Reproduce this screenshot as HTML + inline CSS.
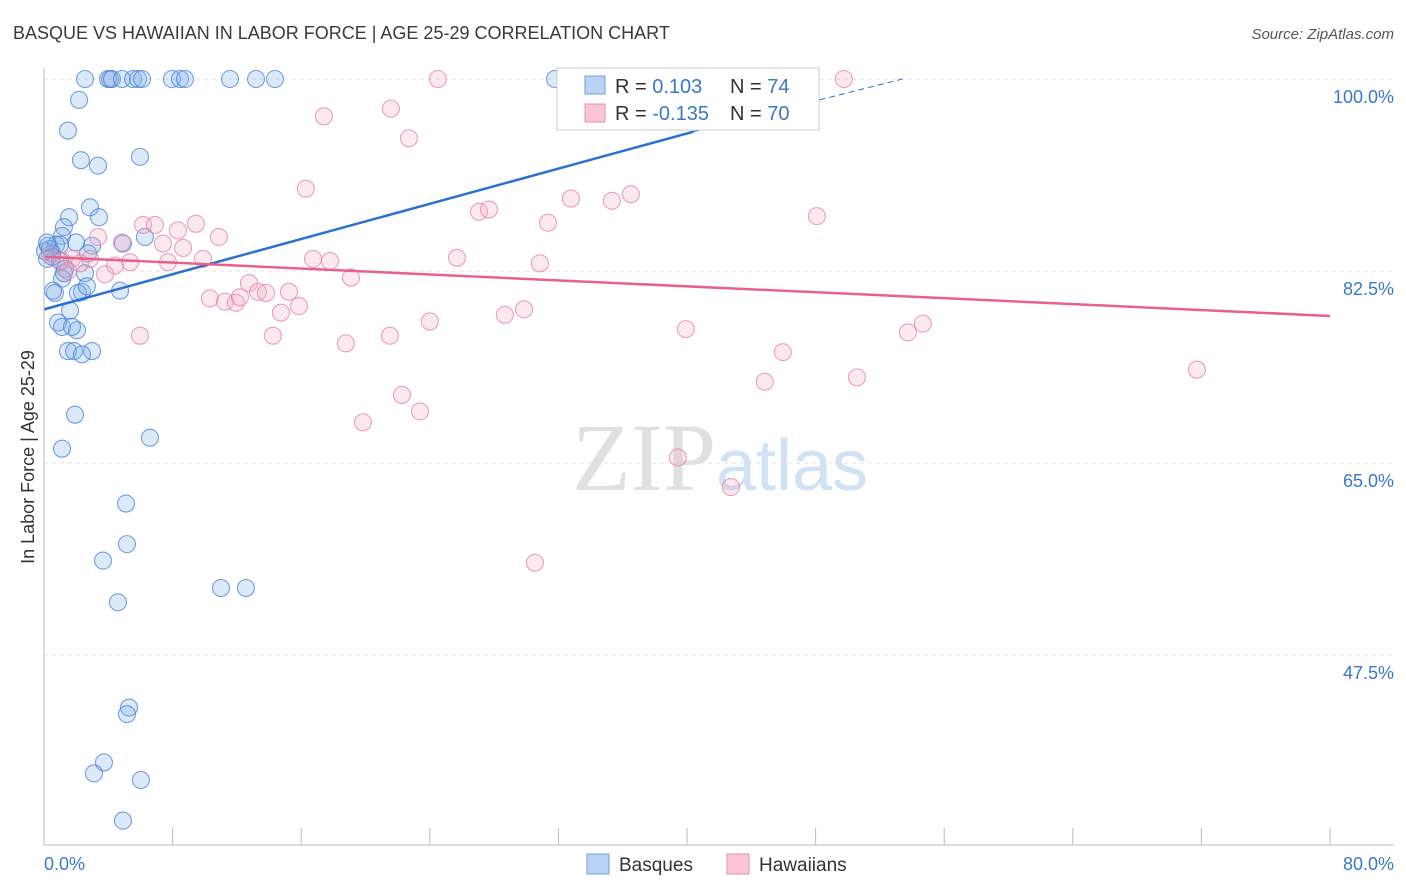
<!DOCTYPE html>
<html><head><meta charset="utf-8"><style>
body{margin:0;background:#fff;font-family:"Liberation Sans",sans-serif}
svg{display:block}
</style></head><body>
<svg id="chart" width="1406" height="892" xmlns="http://www.w3.org/2000/svg">
<text x="13" y="39" font-size="18" fill="#3a3a3a">BASQUE VS HAWAIIAN IN LABOR FORCE | AGE 25-29 CORRELATION CHART</text>
<text x="1394" y="39" font-size="15" fill="#555" text-anchor="end" font-style="italic">Source: ZipAtlas.com</text>
<text x="720" y="490" font-size="96" text-anchor="middle" fill="#e0e0e0" font-family="Liberation Serif">ZIP<tspan fill="#d0e2f4" font-family="Liberation Sans" font-size="72">atlas</tspan></text>
<g id="grid"></g><g id="pts"></g><g id="lines"></g>
<line x1="44" y1="68" x2="44" y2="845" stroke="#bbb"/>
<line x1="44" y1="845" x2="1394" y2="845" stroke="#bbb"/>
<text transform="translate(34,457) rotate(-90)" font-size="18" fill="#333" text-anchor="middle">In Labor Force | Age 25-29</text>
<text x="44" y="870" font-size="18" fill="#3a78d0">0.0%</text>
<text x="1394" y="870" font-size="18" fill="#3a78d0" text-anchor="end">80.0%</text>
<g>
<rect x="557" y="68" width="262" height="62" fill="#fff" stroke="#ccc"/>
<rect x="585" y="76" width="20" height="18" fill="#b8d3f5" stroke="#6fa0e0"/>
<rect x="585" y="104" width="20" height="18" fill="#f9c6d4" stroke="#e890aa"/>
<text x="615" y="93" font-size="20" fill="#333">R = <tspan fill="#3a78d0">  0.103</tspan><tspan x="730">N = </tspan><tspan fill="#3a78d0">74</tspan></text>
<text x="615" y="120" font-size="20" fill="#333">R = <tspan fill="#3a78d0">-0.135</tspan><tspan x="730">N = </tspan><tspan fill="#3a78d0">70</tspan></text>
</g>
<g>
<rect x="587" y="854" width="22" height="20" fill="#b8d3f5" stroke="#6fa0e0"/>
<text x="619" y="871" font-size="19" fill="#333">Basques</text>
<rect x="727" y="854" width="22" height="20" fill="#f9c6d4" stroke="#e890aa"/>
<text x="759" y="871" font-size="19" fill="#333">Hawaiians</text>
</g>
</svg>
<script>
const yTicks=[100,82.5,65,47.5];
const yTickLabels=["100.0%","82.5%","65.0%","47.5%"];
const xTicks=[0,8,16,24,32,40,48,56,64,72,80];
const basqueX=[2.55,3.98,4.11,4.23,4.85,5.54,5.85,6.1,7.96,8.46,8.77,11.57,13.19,14.37,31.79,2.18,1.49,2.3,3.36,5.97,2.86,1.56,3.42,1.24,1.12,1.99,6.28,4.91,2.99,0.25,0.75,1,0.5,0.19,1,1.31,2.55,1.12,4.73,0.68,2.36,2.11,0.56,1.62,0.87,1.12,2.05,1.74,1.49,1.87,2.99,2.36,1.93,1.12,6.59,5.1,3.67,5.16,4.6,11.01,12.56,5.29,5.16,3.73,3.11,6.03,4.91,0.06,0.37,1.24,2.67,0.5,2.74,0.19];
const basqueY=[100,100,100,100,100,100,100,100,100,100,100,100,100,100,100,98.1,95.3,92.6,92.1,92.9,88.3,87.4,87.4,86.5,85.7,85.1,85.6,85,84.8,84.8,84.9,84.9,84.1,83.6,83.4,82.7,82.3,81.8,80.7,80.5,80.6,80.5,80.7,78.9,77.8,77.4,77.1,77.4,75.2,75.2,75.2,74.9,69.4,66.3,67.3,61.3,56.1,57.6,52.3,53.6,53.6,42.7,42.1,37.7,36.7,36.1,32.4,84.3,84.5,82.3,81.1,83.8,84.1,85.1];
const hawX=[24.5,44.53,49.76,33.34,21.58,17.41,22.7,16.29,27.06,27.68,32.78,36.51,35.33,31.35,48.08,6.16,6.9,9.45,8.33,10.88,7.4,8.65,3.36,4.85,0.37,1.12,1.74,2.24,2.86,4.42,5.35,3.8,7.71,9.89,16.73,17.79,25.69,30.85,1.49,12.75,10.32,11.26,11.94,12.19,13.31,13.81,15.24,15.86,14.74,19.1,24,28.67,29.86,5.97,14.24,18.78,21.52,39.93,53.74,54.67,45.96,44.84,50.57,71.72,22.27,23.39,19.84,39.43,42.73,30.54];
const hawY=[100,100,100,100,97.3,96.6,94.6,90,87.9,88.1,89.1,89.5,88.9,86.9,87.5,86.7,86.7,86.8,86.2,85.6,85,84.6,85.6,85.1,83.9,83.4,83.6,83.2,83.6,83,83.3,82.2,83.3,83.6,83.6,83.4,83.7,83.2,82.5,81.4,80,79.7,79.6,80.1,80.6,80.5,80.6,79.3,78.7,81.9,77.9,78.5,79,76.6,76.6,75.9,76.6,77.2,76.9,77.7,75.1,72.4,72.8,73.5,71.2,69.7,68.7,65.5,62.8,55.9];
const blueLine=[[0,79],[40.4,95.2],[53.4,100]];
const pinkLine=[[0,83.8],[80,78.4]];
const X=v=>44+v/80*1286, Y=v=>79+(100-v)*10.97;
const NS="http://www.w3.org/2000/svg";
function mk(tag,attrs,parent){const e=document.createElementNS(NS,tag);for(const k in attrs)e.setAttribute(k,attrs[k]);parent.appendChild(e);return e;}
const g=document.getElementById('grid'),p=document.getElementById('pts'),l=document.getElementById('lines');
yTicks.forEach((t,i)=>{const ln=mk('line',{x1:44,x2:1394,y1:Y(t),y2:Y(t),stroke:'#e0e0e0','stroke-dasharray':'4,4'},g);


const tx=mk('text',{x:1394,y:Y(t)+24,'font-size':18,fill:'#3a78d0','text-anchor':'end'},g);tx.textContent=yTickLabels[i];

});
xTicks.forEach(t=>{const ln=mk('line',{x1:X(t),x2:X(t),y1:828,y2:845,stroke:'#bbb'},g);

});
basqueX.forEach((v,i)=>{const c=mk('circle',{cx:X(v),cy:Y(basqueY[i]),r:8.5,fill:'rgba(130,175,235,0.28)',stroke:'rgba(70,130,215,0.75)','stroke-width':1.1},p);

});
hawX.forEach((v,i)=>{const c=mk('circle',{cx:X(v),cy:Y(hawY[i]),r:8.5,fill:'rgba(245,165,190,0.25)',stroke:'rgba(230,130,165,0.75)','stroke-width':1.1},p);

});
let b1=mk('line',{x1:X(blueLine[0][0]),y1:Y(blueLine[0][1]),x2:X(blueLine[1][0]),y2:Y(blueLine[1][1]),stroke:'#2a70d0','stroke-width':2.5},l);


let b2=mk('line',{x1:X(blueLine[1][0]),y1:Y(blueLine[1][1]),x2:X(blueLine[2][0]),y2:Y(blueLine[2][1]),stroke:'#2a70d0','stroke-width':1,'stroke-dasharray':'6,4'},l);


let p1=mk('line',{x1:X(pinkLine[0][0]),y1:Y(pinkLine[0][1]),x2:X(pinkLine[1][0]),y2:Y(pinkLine[1][1]),stroke:'#e8608c','stroke-width':2.5},l);


</script>
</body></html>
